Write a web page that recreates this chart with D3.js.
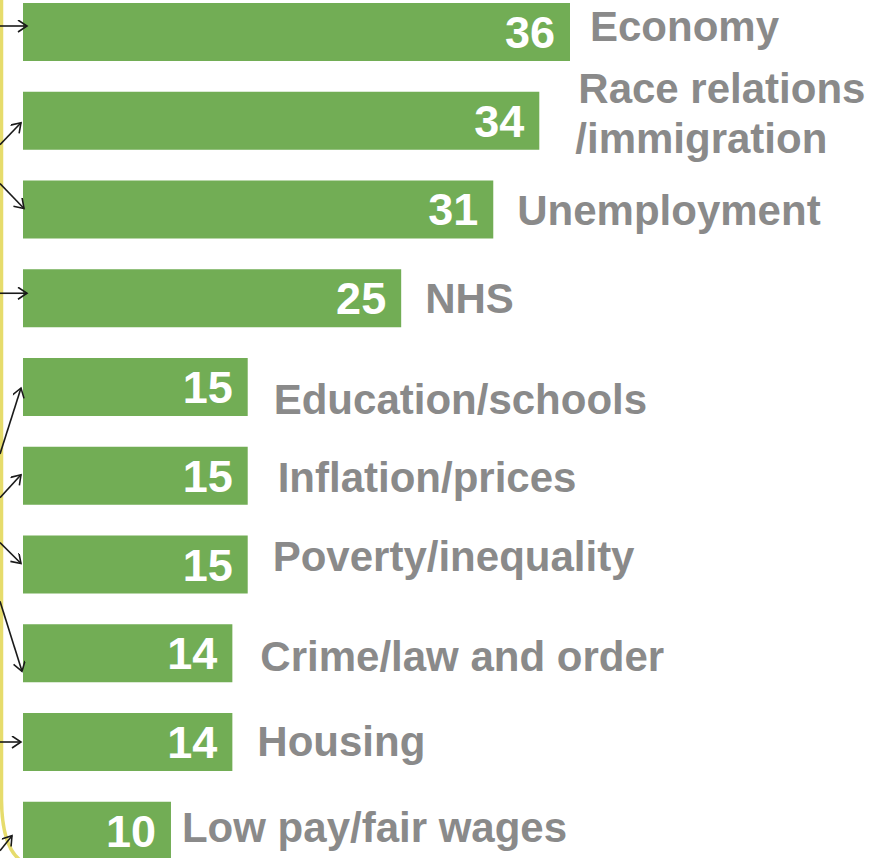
<!DOCTYPE html>
<html>
<head>
<meta charset="utf-8">
<script src="https://cdn.jsdelivr.net/npm/d3@7"></script>
<style>
  body { margin: 0; background: #fff; }
  svg { display: block; font-family: "Liberation Sans", Arial, sans-serif; font-weight: bold; }
</style>
</head>
<body>
<svg id="chart" width="888" height="858"></svg>
<script>
// issues named as most important (%)
const categories = ['Economy', 'Race relations/immigration', 'Unemployment', 'NHS', 'Education/schools',
  'Inflation/prices', 'Poverty/inequality', 'Crime/law and order', 'Housing', 'Low pay/fair wages'];
const values = [36, 34, 31, 25, 15, 15, 15, 14, 14, 10];
const labelLines = [['Economy'], ['Race relations', '/immigration'], ['Unemployment'], ['NHS'], ['Education/schools'],
  ['Inflation/prices'], ['Poverty/inequality'], ['Crime/law and order'], ['Housing'], ['Low pay/fair wages']];

// layout nudges for labels (gap after bar, baseline offset from bar middle)
const labelGap = [20, 39, 24, 24, 26, 30, 25, 28, 25, 11];
const labelDy = [9, -18, 16, 15, 27, 16, 6, 18, 14, 11];
// arrow sketches: [start dy, tip x, tip dy] relative to bar middle
const arrows = [[-6, 27, -6], [24, 21, 2], [-26, 24, -1], [-5, 27, -5], [67, 21, 1],
  [22, 21, -1], [-22, 21, -1], [-52, 22, 18], [0, 21, 0], [20, 12, 5]];

const svg = d3.select('#chart');
const barLeft = 23;

const x = d3.scaleLinear().domain([0, 36]).range([17.5, 570]);
const y = d3.scaleBand().domain(categories).range([3, 859.75]).paddingInner(0.3465).paddingOuter(0);

// yellow bracket down the left side
svg.append('path')
  .attr('d', 'M1.5,0 L1.5,800 Q2,846 20,860')
  .attr('fill', 'none')
  .attr('stroke', '#e6dc6c')
  .attr('stroke-width', 3.5);

svg.append('defs').append('marker')
  .attr('id', 'head')
  .attr('markerUnits', 'userSpaceOnUse')
  .attr('markerWidth', 14).attr('markerHeight', 14)
  .attr('refX', 10).attr('refY', 6)
  .attr('orient', 'auto')
  .append('path')
  .attr('d', 'M1,0 L10,6 L1,12')
  .attr('fill', 'none')
  .attr('stroke', '#1a1a1a')
  .attr('stroke-width', 1.6);

categories.forEach((cat, i) => {
  const mid = y(cat) + y.bandwidth() / 2;
  svg.append('rect')
    .attr('x', barLeft)
    .attr('y', y(cat))
    .attr('width', x(values[i]) - barLeft)
    .attr('height', y.bandwidth())
    .attr('fill', '#72ad55');

  svg.append('text')
    .attr('x', x(values[i]) - 15)
    .attr('y', mid + 16)
    .attr('text-anchor', 'end')
    .attr('font-size', 45)
    .attr('fill', '#fff')
    .text(values[i]);

  const lbl = svg.append('text')
    .attr('x', x(values[i]) + labelGap[i])
    .attr('y', mid + labelDy[i])
    .attr('font-size', 42)
    .attr('fill', '#8a8a8a');
  labelLines[i].forEach((t, j) => {
    lbl.append('tspan')
      .attr('x', x(values[i]) + labelGap[i] - (j ? 3 : 0))
      .attr('dy', j ? 50 : 0)
      .text(t);
  });

  const a = arrows[i];
  svg.append('line')
    .attr('x1', 0).attr('y1', mid + a[0])
    .attr('x2', a[1]).attr('y2', mid + a[2])
    .attr('stroke', '#1a1a1a')
    .attr('stroke-width', 1.6)
    .attr('marker-end', 'url(#head)');
});
</script>
</body>
</html>
